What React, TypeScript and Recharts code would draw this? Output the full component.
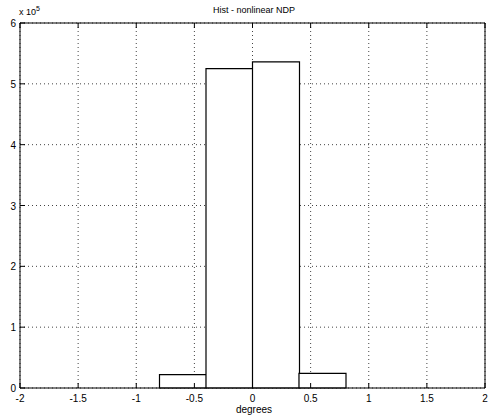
import React from 'react';
import {
  ComposedChart,
  Bar,
  XAxis,
  YAxis,
  CartesianGrid,
} from 'recharts';

// histogram bins, 0.4 deg wide, from -2 to 2
const binCenters = [-1.8, -1.4, -1.0, -0.6, -0.2, 0.2, 0.6, 1.0, 1.4, 1.8];
const binCounts = [0, 0, 0, 22000, 525000, 536000, 24000, 0, 0, 0];

const xTicks = [-2, -1.5, -1, -0.5, 0, 0.5, 1, 1.5, 2];
const yTicks = [0, 100000, 200000, 300000, 400000, 500000, 600000];

const FONT = '"Liberation Sans", Arial, sans-serif';

const data = binCenters.map((c, i) => ({ center: c, count: binCounts[i] }));

const BottomTick = (props: any) => {
  const { x, y, payload } = props;
  return (
    <g>
      <line x1={x} y1={y} x2={x} y2={y - 5} stroke="#000" />
      <text x={x} y={y + 14} textAnchor="middle" fontSize={10} fontFamily={FONT} fill="#000">
        {payload.value}
      </text>
    </g>
  );
};

const TopTick = (props: any) => {
  const { x, y } = props;
  return <line x1={x} y1={y} x2={x} y2={y + 5} stroke="#000" />;
};

const LeftTick = (props: any) => {
  const { x, y, payload } = props;
  return (
    <g>
      <line x1={x} y1={y} x2={x + 5} y2={y} stroke="#000" />
      <text x={x - 4} y={y + 4} textAnchor="end" fontSize={10} fontFamily={FONT} fill="#000">
        {payload.value / 100000}
      </text>
    </g>
  );
};

const RightTick = (props: any) => {
  const { x, y } = props;
  return <line x1={x} y1={y} x2={x - 5} y2={y} stroke="#000" />;
};

export default function App() {
  return (
    <div style={{ position: 'absolute', left: 0, top: 0, width: 488, height: 420, background: '#fff' }}>
      <ComposedChart
        width={488}
        height={420}
        data={data}
        margin={{ top: 22, right: 2, bottom: 2, left: 2 }}
        barCategoryGap={0}
        barGap={0}
      >
        <CartesianGrid
          xAxisId="deg"
          yAxisId="cnt"
          stroke="#444"
          strokeDasharray="1 3"
          verticalValues={xTicks}
          horizontalValues={yTicks}
        />
        <XAxis xAxisId="bins" dataKey="center" type="category" hide height={0} />
        <XAxis
          xAxisId="deg"
          dataKey="center"
          type="number"
          domain={[-2, 2]}
          ticks={xTicks}
          allowDataOverflow
          height={30}
          tickSize={0}
          tickMargin={0}
          tickLine={false}
          axisLine={{ stroke: '#000' }}
          tick={<BottomTick />}
          interval={0}
        />
        <XAxis
          xAxisId="top"
          orientation="top"
          dataKey="center"
          type="number"
          domain={[-2, 2]}
          ticks={xTicks}
          height={1}
          tickSize={0}
          tickMargin={0}
          tickLine={false}
          axisLine={{ stroke: '#000' }}
          tick={<TopTick />}
          interval={0}
        />
        <YAxis
          yAxisId="cnt"
          type="number"
          domain={[0, 600000]}
          ticks={yTicks}
          width={18}
          tickSize={0}
          tickMargin={0}
          tickLine={false}
          axisLine={{ stroke: '#000' }}
          tick={<LeftTick />}
          interval={0}
        />
        <YAxis
          yAxisId="right"
          orientation="right"
          type="number"
          domain={[0, 600000]}
          ticks={yTicks}
          width={1}
          tickSize={0}
          tickMargin={0}
          tickLine={false}
          axisLine={{ stroke: '#000' }}
          tick={<RightTick />}
          interval={0}
        />
        <Bar
          xAxisId="bins"
          yAxisId="cnt"
          dataKey="count"
          fill="#fff"
          stroke="#000"
          strokeWidth={1.2}
          isAnimationActive={false}
        />
        <text x={254} y={13} textAnchor="middle" fontSize={9} fontFamily={FONT} fill="#000">
          Hist - nonlinear NDP
        </text>
        <text x={254} y={413} textAnchor="middle" fontSize={10} fontFamily={FONT} fill="#000">
          degrees
        </text>
        <text x={19} y={15} fontSize={9} fontFamily={FONT} fill="#000">
          x 10
          <tspan dy={-4} fontSize={7}>5</tspan>
        </text>
      </ComposedChart>
    </div>
  );
}
